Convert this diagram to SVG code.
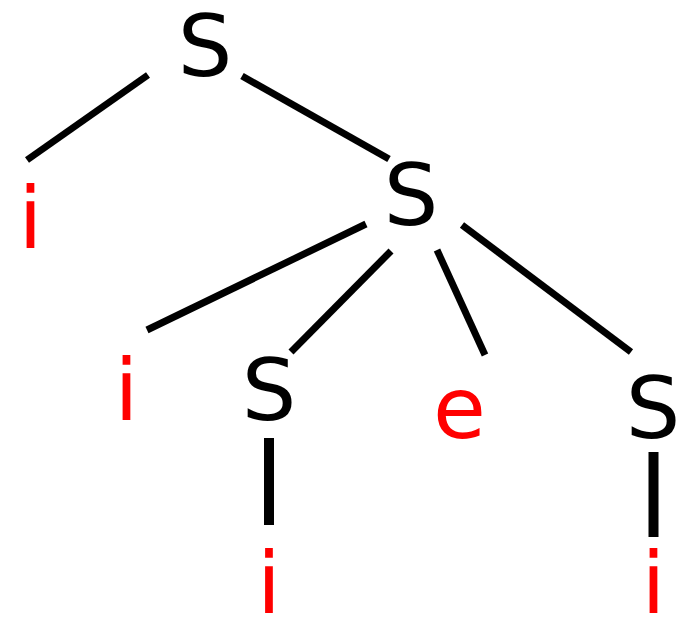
<svg xmlns="http://www.w3.org/2000/svg" width="692" height="620" viewBox="0 0 692 620">
  <style>
    .nt { font-family: "DejaVu Sans", sans-serif; font-size: 86px; fill: #000000; text-anchor: middle; }
    .t { font-family: "DejaVu Sans", sans-serif; font-size: 86px; fill: #ff0000; text-anchor: middle; }
    .edge { stroke: #000000; stroke-width: 7; fill: none; }
    .edge.v { stroke-width: 10; }
  </style>
  <rect width="692" height="620" fill="#ffffff"/>
  <g id="edges">
    <line class="edge" x1="148" y1="75" x2="27" y2="160"/>
    <line class="edge" x1="242" y1="76" x2="389" y2="159"/>
    <line class="edge" x1="366" y1="224" x2="147" y2="330"/>
    <line class="edge" x1="391" y1="251" x2="291" y2="352"/>
    <line class="edge" x1="437" y1="250" x2="485" y2="355"/>
    <line class="edge" x1="462" y1="225" x2="631" y2="352"/>
    <line class="edge v" x1="269" y1="438" x2="269" y2="525"/>
    <line class="edge v" x1="653.5" y1="452" x2="653.5" y2="537"/>
  </g>
  <g id="root"><text class="nt" x="205" y="76">S</text></g>
  <g id="leaf-i1"><text class="t" x="30.5" y="248">i</text></g>
  <g id="s-mid"><text class="nt" x="411" y="225">S</text></g>
  <g id="leaf-i2"><text class="t" x="126.5" y="420">i</text></g>
  <g id="s-left"><text class="nt" x="269" y="420">S</text></g>
  <g id="leaf-e"><text class="t" x="459.5" y="438">e</text></g>
  <g id="s-right"><text class="nt" x="653" y="438">S</text></g>
  <g id="leaf-i3"><text class="t" x="269" y="613">i</text></g>
  <g id="leaf-i4"><text class="t" x="653.5" y="613">i</text></g>
</svg>
